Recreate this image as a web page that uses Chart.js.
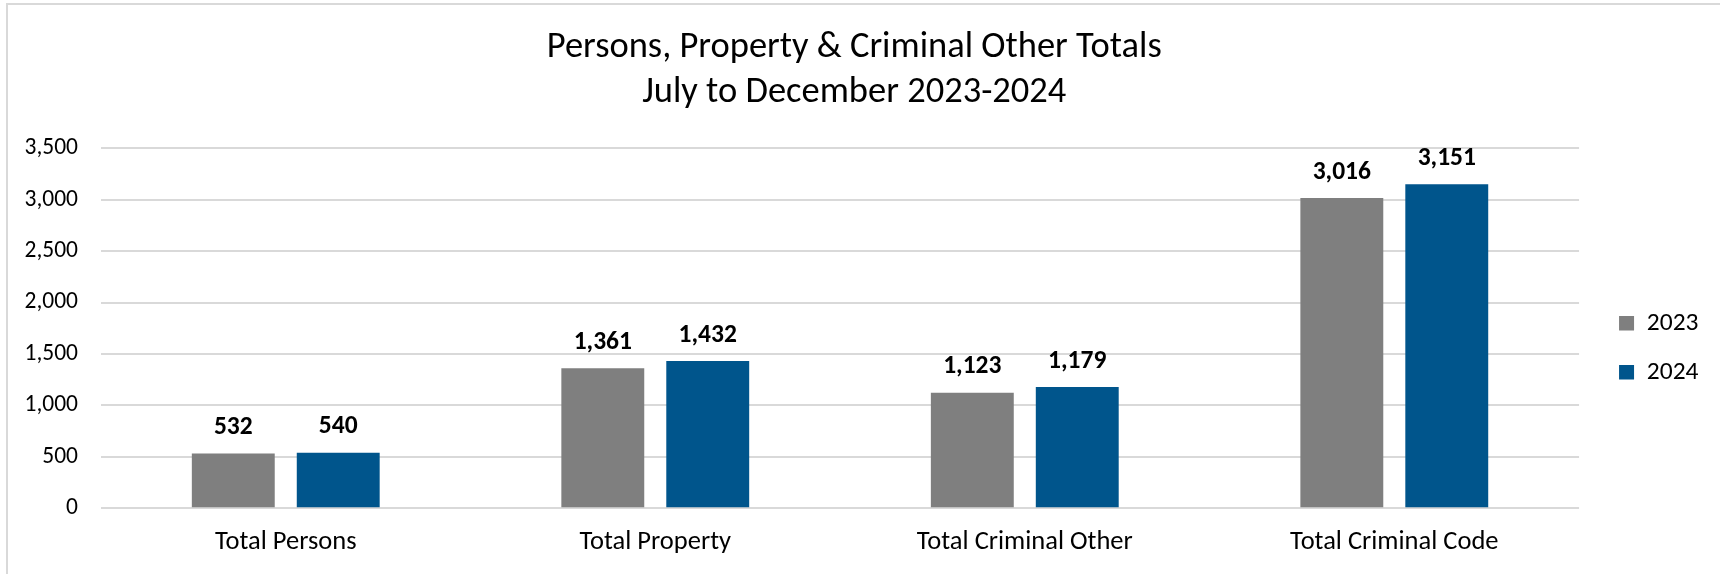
<!DOCTYPE html>
<html><head><meta charset="utf-8">
<script src="https://cdn.jsdelivr.net/npm/chart.js@4"></script>
<style>
html,body{margin:0;padding:0;background:#fff;}
#wrap{position:relative;width:1720px;height:574px;overflow:hidden;}
#frame{position:absolute;left:6px;top:3px;width:1800px;height:700px;border:2px solid #d9d9d9;}
#c{position:absolute;left:0;top:0;}
</style></head><body>
<div id="wrap"><div id="frame"></div><canvas id="c" width="1720" height="574"></canvas></div>
<script>
const categories = ['Total Persons', 'Total Property', 'Total Criminal Other', 'Total Criminal Code'];
const seriesNames = ['2023', '2024'];
const values2023 = [532, 1361, 1123, 3016];
const values2024 = [540, 1432, 1179, 3151];
const titleLines = ['Persons, Property & Criminal Other Totals', 'July to December 2023-2024'];
const yMin = 0, yMax = 3500, yStep = 500;

const FONT = 'Carlito, "Open Sans", "Noto Sans", sans-serif';
Chart.defaults.font.family = FONT;
Chart.defaults.color = '#000';

const dataLabels = {
  id: 'dataLabels',
  afterDatasetsDraw(chart) {
    const ctx = chart.ctx;
    ctx.save();
    ctx.font = 'bold 25.5px ' + FONT;
    ctx.fillStyle = '#000';
    ctx.textAlign = 'center';
    ctx.textBaseline = 'alphabetic';
    chart.data.datasets.forEach((ds, i) => {
      const meta = chart.getDatasetMeta(i);
      meta.data.forEach((el, j) => {
        ctx.fillText(ds.data[j].toLocaleString('en-US'), el.x, el.y - 19.5);
      });
    });
    ctx.restore();
  }
};

new Chart(document.getElementById('c'), {
  type: 'bar',
  data: {
    labels: categories,
    datasets: [
      { label: seriesNames[0], data: values2023, backgroundColor: '#7F7F7F', categoryPercentage: 0.568, barPercentage: 0.79 },
      { label: seriesNames[1], data: values2024, backgroundColor: '#00558C', categoryPercentage: 0.568, barPercentage: 0.79 }
    ]
  },
  options: {
    responsive: false,
    animation: false,
    devicePixelRatio: 1,
    layout: { padding: { left: 0, right: 11.5, top: 0, bottom: 0 } },
    plugins: {
      title: {
        display: true,
        text: titleLines,
        color: '#000',
        font: { size: 36.5, weight: 'normal', lineHeight: 1.211 },
        padding: { top: 26.2, bottom: 33.7 }
      },
      legend: {
        position: 'right',
        fullSize: false,
        title: { display: true, text: ' ', font: { size: 9, lineHeight: 1 }, padding: { top: 15, bottom: 15 } },
        labels: { boxWidth: 15, boxHeight: 14.5, padding: 23.5, color: '#000', font: { size: 25.5 } }
      },
      tooltip: { enabled: false }
    },
    scales: {
      x: {
        grid: { display: false, drawTicks: false },
        border: { display: false },
        ticks: { padding: 18, font: { size: 26.5 }, color: '#000' },
        afterFit(s) { s.height = 65.7; }
      },
      y: {
        min: yMin, max: yMax,
        grid: { color: '#D9D9D9', lineWidth: 2, drawTicks: false },
        border: { display: false },
        ticks: { stepSize: yStep, padding: 23, font: { size: 23.5 }, color: '#000',
          callback: v => v.toLocaleString('en-US') },
        afterFit(s) { s.width = 101; }
      },
      gap: {
        type: 'linear', position: 'right', display: true,
        grid: { display: false, drawTicks: false }, border: { display: false },
        ticks: { display: false },
        afterFit(s) { s.width = 16.5; }
      }
    }
  },
  plugins: [dataLabels]
});
</script>
</body></html>
